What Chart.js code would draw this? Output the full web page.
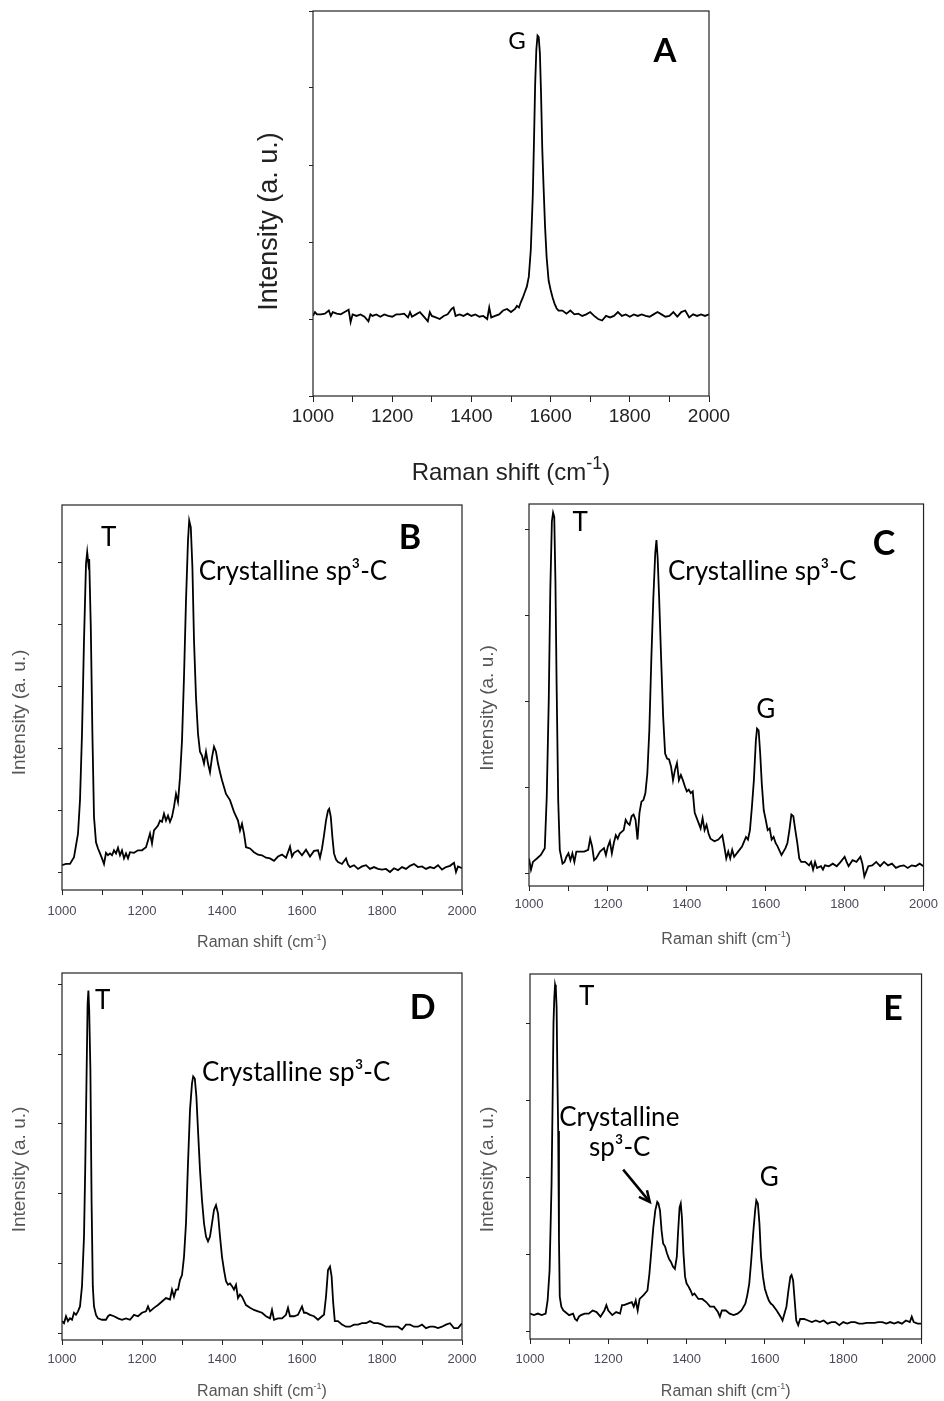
<!DOCTYPE html>
<html lang="en">
<head>
  <meta charset="UTF-8" />
  <title>Raman spectra A-E</title>
  <script src="https://cdn.jsdelivr.net/npm/chart.js"></script>
  <style>
    body {
      margin: 0;
      background: #fff;
      width: 944px;
      height: 1401px;
      position: relative;
      overflow: hidden;
    }
    .panel { position: absolute; }
  </style>
</head>
<body>
  <script>
    // shared axis data
    const xTicks = [1000, 1100, 1200, 1300, 1400, 1500, 1600, 1700, 1800, 1900, 2000];
    const xTitle = ['Raman shift (cm', '-1', ')'];
    const yTitle = 'Intensity (a. u.)';

    // panel A
    const shiftA = [
      1000,1005,1010,1020,1030,1040,1045,1050,1060,1070,
      1080,1090,1095,1100,1110,1120,1130,1140,1145,1150,
      1160,1170,1180,1190,1200,1210,1220,1230,1240,1245,
      1250,1260,1270,1280,1290,1295,1300,1310,1320,1330,
      1340,1350,1355,1360,1370,1380,1390,1400,1410,1420,
      1430,1440,1445,1450,1460,1470,1480,1490,1500,1510,
      1515,1520,1525,1530,1535,1540,1545,1550,1555,1558,
      1561,1564,1567,1570,1573,1576,1579,1582,1586,1590,
      1595,1600,1605,1610,1615,1620,1630,1640,1650,1660,
      1670,1680,1690,1700,1710,1720,1730,1740,1750,1760,
      1770,1780,1790,1800,1810,1820,1830,1840,1850,1860,
      1870,1880,1890,1900,1910,1920,1930,1940,1950,1960,
      1970,1980,1990,2000];
    const intensityA = [
      4,9,6,6,7,11,4,9,7,6,
      9,12,-4,6,4,6,3,-3,6,4,
      6,3,6,4,3,6,6,7,2,9,
      3,6,9,3,-3,9,4,2,0,4,
      6,13,15,4,6,4,7,4,6,3,
      4,0,15,2,4,6,11,13,9,13,
      17,15,22,28,35,42,55,90,160,230,
      305,350,368,366,345,290,220,175,120,80,
      50,38,28,20,14,11,11,7,11,6,
      7,4,6,9,4,0,-2,4,2,4,
      9,4,6,3,6,4,6,4,3,6,
      9,6,3,4,9,3,9,11,2,6,
      4,6,4,6];
    const yTicksA = [-100, 0, 100, 200, 300, 400];

    // panel B
    const shiftB = [
      1000,1010,1020,1030,1040,1045,1050,1055,1060,1063,
      1066,1068,1072,1076,1080,1085,1090,1095,1100,1105,
      1110,1115,1120,1125,1130,1135,1140,1145,1150,1155,
      1160,1165,1170,1180,1190,1200,1210,1215,1220,1225,
      1230,1240,1245,1250,1255,1260,1265,1270,1275,1280,
      1285,1290,1295,1300,1305,1310,1315,1318,1322,1326,
      1330,1335,1340,1345,1350,1355,1360,1365,1370,1375,
      1380,1385,1390,1395,1400,1410,1420,1430,1440,1445,
      1450,1455,1460,1470,1480,1490,1500,1510,1520,1530,
      1540,1550,1560,1570,1575,1580,1590,1600,1610,1620,
      1630,1640,1645,1650,1655,1660,1665,1668,1672,1676,
      1680,1685,1690,1700,1710,1715,1720,1730,1740,1750,
      1760,1770,1780,1790,1800,1810,1820,1830,1840,1850,
      1860,1870,1880,1890,1900,1910,1920,1930,1940,1950,
      1960,1970,1980,1985,1990,2000];
    const intensityB = [
      11,13,13,24,62,116,223,374,497,516,
      497,505,395,223,89,48,38,30,22,13,
      31,27,30,27,35,30,39,27,35,22,
      30,22,32,31,35,35,40,51,62,46,
      67,75,83,81,94,83,91,81,89,105,
      126,113,153,212,315,438,535,567,556,492,
      374,282,223,194,188,175,194,175,161,185,
      202,194,175,161,148,126,116,97,83,67,
      78,62,40,38,32,28,27,23,22,18,
      25,28,23,41,25,31,35,27,36,25,
      34,35,23,38,59,83,99,102,89,56,
      30,20,16,13,22,12,8,11,5,9,
      11,5,8,5,4,5,0,6,3,8,
      5,10,13,8,9,5,8,6,11,4,
      8,10,15,0,9,6];
    const yTicksB = [0, 100, 200, 300, 400, 500];

    // panel C
    const shiftC = [
      1000,1005,1010,1020,1030,1040,1045,1050,1054,1058,
      1061,1064,1067,1070,1074,1078,1085,1090,1095,1100,
      1105,1110,1115,1120,1130,1140,1150,1155,1160,1165,
      1170,1180,1190,1195,1200,1205,1210,1215,1220,1225,
      1230,1240,1245,1250,1255,1260,1265,1270,1275,1280,
      1285,1290,1295,1300,1305,1310,1315,1320,1323,1326,
      1330,1335,1340,1345,1350,1355,1360,1365,1370,1375,
      1380,1385,1390,1395,1400,1405,1410,1415,1420,1430,
      1435,1440,1445,1450,1455,1460,1470,1480,1490,1495,
      1500,1505,1510,1515,1520,1530,1540,1550,1555,1560,
      1565,1570,1575,1578,1582,1586,1590,1595,1600,1605,
      1610,1615,1620,1625,1630,1640,1645,1650,1655,1660,
      1665,1670,1675,1680,1685,1690,1700,1710,1715,1720,
      1725,1730,1740,1745,1750,1760,1770,1780,1790,1800,
      1805,1810,1820,1830,1840,1845,1850,1855,1860,1870,
      1880,1890,1900,1910,1920,1930,1940,1950,1960,1970,
      1980,1990,2000];
    const intensityC = [
      18,5,14,18,22,30,90,200,330,410,
      420,415,340,220,86,28,12,14,20,24,
      16,24,14,26,26,26,28,41,32,16,
      18,26,30,22,32,38,24,36,45,41,
      47,51,63,59,57,67,69,63,40,71,
      84,86,94,117,167,249,319,373,388,368,
      319,249,183,140,134,133,125,109,121,129,
      109,115,109,102,96,98,94,96,71,59,
      53,65,51,57,47,41,38,40,45,32,
      18,26,18,28,20,26,32,43,40,51,
      78,109,155,169,167,140,105,74,63,51,
      53,40,43,36,32,22,26,30,36,51,
      69,67,51,36,18,14,14,10,14,5,
      14,7,9,5,10,9,12,9,14,20,
      14,9,16,14,20,12,-3,3,9,10,
      14,9,14,10,12,7,9,10,7,10,
      9,12,9];
    const yTicksC = [0, 100, 200, 300, 400];

    // panel D
    const shiftD = [
      1000,1005,1010,1015,1020,1025,1030,1035,1040,1045,
      1050,1055,1058,1061,1064,1066,1068,1071,1074,1077,
      1080,1085,1090,1100,1110,1115,1120,1130,1140,1150,
      1160,1170,1180,1190,1200,1210,1215,1220,1230,1240,
      1250,1260,1270,1275,1280,1285,1290,1295,1300,1305,
      1310,1315,1320,1325,1328,1332,1336,1340,1345,1350,
      1355,1360,1365,1370,1375,1380,1385,1390,1395,1400,
      1405,1410,1415,1420,1425,1430,1435,1440,1445,1450,
      1460,1470,1480,1490,1500,1510,1520,1525,1530,1540,
      1550,1560,1565,1570,1580,1590,1600,1605,1610,1620,
      1630,1640,1650,1655,1660,1665,1670,1674,1678,1682,
      1690,1700,1710,1720,1730,1740,1750,1760,1770,1780,
      1790,1800,1810,1820,1830,1840,1850,1860,1870,1880,
      1890,1900,1910,1920,1930,1940,1950,1960,1970,1980,
      1990,2000];
    const intensityD = [
      18,15,25,18,22,20,30,27,32,39,
      68,139,234,353,472,491,463,377,187,68,
      39,27,22,20,20,25,27,25,22,20,
      22,20,27,25,30,32,39,32,37,41,
      46,51,49,63,53,63,63,77,84,110,
      158,244,320,358,368,365,339,291,234,191,
      158,139,132,139,158,177,184,172,139,110,
      91,75,70,72,68,63,70,51,56,53,
      41,37,34,32,30,25,22,34,20,22,
      22,27,37,25,25,27,39,30,30,27,
      25,20,25,27,53,91,96,82,44,18,
      18,13,10,10,13,13,15,15,18,15,
      15,13,10,10,10,10,6,13,13,10,
      10,13,8,10,10,8,10,13,15,8,
      8,15];
    const yTicksD = [0, 100, 200, 300, 400, 500];

    // panel E
    const shiftE = [
      1000,1010,1020,1030,1040,1045,1050,1055,1058,1060,
      1062,1064,1066,1068,1070,1072,1074,1076,1080,1085,
      1090,1100,1110,1115,1120,1125,1130,1140,1150,1160,
      1170,1180,1190,1195,1200,1210,1220,1230,1235,1240,
      1250,1260,1265,1270,1275,1280,1290,1300,1305,1310,
      1315,1320,1325,1328,1332,1336,1340,1345,1350,1355,
      1360,1365,1370,1375,1378,1382,1385,1388,1392,1396,
      1400,1405,1410,1415,1420,1430,1440,1450,1460,1470,
      1480,1485,1490,1500,1510,1520,1530,1540,1550,1555,
      1560,1565,1570,1575,1578,1582,1586,1590,1595,1600,
      1605,1610,1615,1620,1630,1640,1645,1650,1655,1660,
      1665,1668,1672,1676,1680,1685,1690,1700,1710,1720,
      1730,1740,1750,1760,1770,1780,1790,1800,1810,1820,
      1830,1840,1850,1860,1870,1880,1890,1900,1910,1920,
      1930,1940,1950,1960,1970,1975,1980,1990,2000];
    const intensityE = [
      23,21,23,21,23,40,79,190,310,400,
      432,450,445,420,330,260,120,45,32,27,
      25,21,23,16,14,19,21,23,23,27,
      25,19,27,34,27,21,25,23,34,34,
      36,38,32,40,27,42,47,53,75,105,
      135,157,168,166,157,131,114,110,101,94,
      90,84,81,97,127,161,166,148,101,71,
      62,58,53,47,49,42,42,38,32,32,
      25,19,27,27,23,21,23,27,36,47,
      62,92,127,157,170,166,140,97,71,55,
      47,40,36,34,27,19,14,23,32,53,
      71,73,66,40,14,8,16,16,14,12,
      14,12,14,10,12,12,8,12,10,12,
      12,10,10,11,11,11,12,12,10,12,
      10,12,10,14,12,19,12,10,10];
    const yTicksE = [0, 100, 200, 300, 400];

    // layout and text per panel (box = canvas holder, area = plot frame, page px)
    const big = {
      tickFont: 19, tickColor: '#222', tickLen: 6,
      xTitleFont: '24px "Liberation Sans", Arial', supFont: '18px "Liberation Sans", Arial', supRaise: 9,
      yTitleFont: '27px "Liberation Sans", Arial', titleColor: '#222'
    };
    const small = {
      tickFont: 13, tickColor: '#4a4a58', tickLen: 5,
      xTitleFont: '16px "Liberation Sans", Arial', supFont: '9px "Liberation Sans", Arial', supRaise: 5,
      yTitleFont: '19px "Liberation Sans", Arial', titleColor: '#555'
    };
    const noteFont = '26px Lato';
    const letterFont = 'bold 34px Lato';

    const panels = [
      { shift: shiftA, intensity: intensityA, yTicks: yTicksA, yMin: -100, yMax: 400, s: big,
        box: [250, 0, 500, 495], area: [313, 11, 709, 396], tickPad: 3,
        xTitleOff: 77, yTitleOff: 43, yTitleShift: 18,
        notes: [
          { text: 'G', x: 1515, y: 361, font: '24px Lato' },
          { text: 'A', x: 1889, y: 348, font: 'bold 33px Lato' }
        ] },
      { shift: shiftB, intensity: intensityB, yTicks: yTicksB, yMin: -29, yMax: 592, s: small,
        box: [0, 495, 490, 465], area: [62, 505, 462, 890], tickPad: 9,
        xTitleOff: 53, yTitleOff: 42, yTitleShift: 15,
        notes: [
          { text: 'T', x: 1117, y: 539 },
          { text: 'Crystalline sp\u00b3-C', x: 1342, y: 484, align: 'left' },
          { text: 'B', x: 1870, y: 539, font: letterFont }
        ] },
      { shift: shiftC, intensity: intensityC, yTicks: yTicksC, yMin: -14, yMax: 430, s: small,
        box: [472, 495, 472, 465], area: [529, 504, 929, 886], tickPad: 6,
        xTitleOff: 54, yTitleOff: 41, yTitleShift: 13,
        notes: [
          { text: 'T', x: 1130, y: 408 },
          { text: 'Crystalline sp\u00b3-C', x: 1352, y: 351, align: 'left' },
          { text: 'G', x: 1600, y: 191 },
          { text: 'C', x: 1900, y: 383, font: letterFont }
        ] },
      { shift: shiftD, intensity: intensityD, yTicks: yTicksD, yMin: -9, yMax: 516, s: small,
        box: [0, 963, 490, 438], area: [62, 973, 462, 1340], tickPad: 7,
        xTitleOff: 52, yTitleOff: 42, yTitleShift: 13,
        notes: [
          { text: 'T', x: 1102, y: 477 },
          { text: 'Crystalline sp\u00b3-C', x: 1350, y: 373, align: 'left' },
          { text: 'D', x: 1902, y: 466, font: letterFont }
        ] },
      { shift: shiftE, intensity: intensityE, yTicks: yTicksE, yMin: -10, yMax: 464, s: small,
        box: [472, 963, 472, 438], area: [530, 974, 929, 1339], tickPad: 8,
        xTitleOff: 53, yTitleOff: 42, yTitleShift: 13,
        notes: [
          { text: 'T', x: 1145, y: 434 },
          { text: 'Crystalline', x: 1228, y: 277 },
          { text: 'sp\u00b3-C', x: 1229, y: 239 },
          { text: 'G', x: 1611, y: 199 },
          { text: 'E', x: 1927, y: 419, font: letterFont }
        ],
        arrow: { from: [1238, 210], to: [1306, 168] } }
    ];

    function drawPanel(chart, p) {
      const { ctx, chartArea: a, scales: { x, y } } = chart;
      const s = p.s;
      ctx.save();
      // frame
      ctx.strokeStyle = '#222';
      ctx.lineWidth = 1.2;
      ctx.strokeRect(a.left, a.top, a.right - a.left, a.bottom - a.top);

      // x title with superscript
      ctx.fillStyle = s.titleColor;
      ctx.textBaseline = 'middle';
      ctx.textAlign = 'left';
      ctx.font = s.xTitleFont;
      const w1 = ctx.measureText(xTitle[0]).width;
      const w3 = ctx.measureText(xTitle[2]).width;
      ctx.font = s.supFont;
      const w2 = ctx.measureText(xTitle[1]).width;
      const x0 = (a.left + a.right) / 2 - (w1 + w2 + w3) / 2;
      const ty = a.bottom + p.xTitleOff;
      ctx.font = s.xTitleFont;
      ctx.fillText(xTitle[0], x0, ty);
      ctx.font = s.supFont;
      ctx.fillText(xTitle[1], x0 + w1, ty - s.supRaise);
      ctx.font = s.xTitleFont;
      ctx.fillText(xTitle[2], x0 + w1 + w2, ty);

      // y title
      ctx.save();
      ctx.translate(a.left - p.yTitleOff, (a.top + a.bottom) / 2 + p.yTitleShift);
      ctx.rotate(-Math.PI / 2);
      ctx.textAlign = 'center';
      ctx.font = s.yTitleFont;
      ctx.fillText(yTitle, 0, 0);
      ctx.restore();

      // peak labels and panel letter
      ctx.fillStyle = '#000';
      p.notes.forEach(n => {
        ctx.font = n.font || noteFont;
        ctx.textAlign = n.align || 'center';
        ctx.fillText(n.text, x.getPixelForValue(n.x), y.getPixelForValue(n.y));
      });

      // arrow (panel E)
      if (p.arrow) {
        const x1 = x.getPixelForValue(p.arrow.from[0]), y1 = y.getPixelForValue(p.arrow.from[1]);
        const x2 = x.getPixelForValue(p.arrow.to[0]), y2 = y.getPixelForValue(p.arrow.to[1]);
        const ang = Math.atan2(y2 - y1, x2 - x1);
        ctx.strokeStyle = '#000';
        ctx.lineWidth = 2.5;
        ctx.beginPath();
        ctx.moveTo(x1, y1);
        ctx.lineTo(x2 - 3 * Math.cos(ang), y2 - 3 * Math.sin(ang));
        ctx.stroke();
        ctx.beginPath();
        ctx.moveTo(x2 - 12 * Math.cos(ang - 0.45), y2 - 12 * Math.sin(ang - 0.45));
        ctx.lineTo(x2, y2);
        ctx.lineTo(x2 - 12 * Math.cos(ang + 0.45), y2 - 12 * Math.sin(ang + 0.45));
        ctx.stroke();
      }
      ctx.restore();
    }

    panels.forEach((p, k) => {
      if (p.shift.length !== p.intensity.length) throw new Error('length mismatch in panel ' + k);
      const [bl, bt, bw, bh] = p.box;
      const [al, at, ar, ab] = p.area;
      const wrap = document.createElement('div');
      wrap.className = 'panel';
      wrap.style.left = bl + 'px';
      wrap.style.top = bt + 'px';
      wrap.style.width = bw + 'px';
      wrap.style.height = bh + 'px';
      const canvas = document.createElement('canvas');
      wrap.appendChild(canvas);
      document.body.appendChild(wrap);

      const tickGrid = {
        drawOnChartArea: false,
        drawTicks: true,
        tickLength: p.s.tickLen,
        tickColor: '#222',
        tickWidth: 1
      };

      new Chart(canvas, {
        type: 'line',
        data: {
          datasets: [{
            data: p.shift.map((v, i) => ({ x: v, y: p.intensity[i] })),
            borderColor: '#000',
            borderWidth: 1.8,
            pointRadius: 0,
            tension: 0,
            fill: false
          }]
        },
        options: {
          responsive: true,
          maintainAspectRatio: false,
          animation: false,
          layout: { padding: { top: at - bt, right: bl + bw - ar, left: 0, bottom: 0 } },
          plugins: { legend: { display: false }, tooltip: { enabled: false } },
          scales: {
            x: {
              type: 'linear',
              min: 1000,
              max: 2000,
              afterBuildTicks: axis => { axis.ticks = xTicks.map(v => ({ value: v })); },
              afterFit: axis => { axis.height = bt + bh - ab; },
              grid: tickGrid,
              border: { display: false },
              ticks: {
                autoSkip: false,
                maxRotation: 0,
                padding: p.tickPad,
                color: p.s.tickColor,
                font: { family: '"Liberation Sans", Arial', size: p.s.tickFont },
                callback: v => (v % 200 === 0 ? String(v) : '')
              }
            },
            y: {
              type: 'linear',
              min: p.yMin,
              max: p.yMax,
              afterBuildTicks: axis => { axis.ticks = p.yTicks.map(v => ({ value: v })); },
              afterFit: axis => { axis.width = al - bl; },
              grid: Object.assign({}, tickGrid, { tickLength: 4 }),
              border: { display: false },
              ticks: { display: false }
            }
          }
        },
        plugins: [{ id: 'panelText' + k, afterDraw: chart => drawPanel(chart, p) }]
      });
    });
  </script>
</body>
</html>
